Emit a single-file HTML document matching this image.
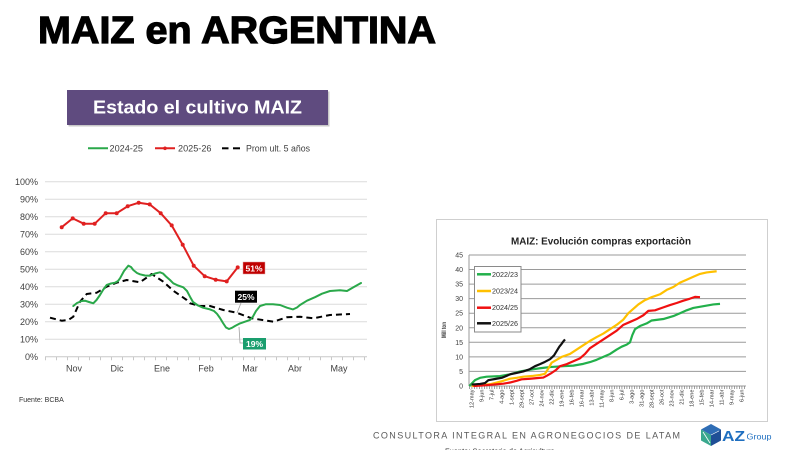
<!DOCTYPE html>
<html><head><meta charset="utf-8"><style>
html,body{margin:0;padding:0;background:#fff;width:800px;height:450px;overflow:hidden;}
svg{display:block;font-family:"Liberation Sans",Arial,sans-serif;}
</style></head><body>
<svg width="800" height="450" viewBox="0 0 800 450" xmlns="http://www.w3.org/2000/svg">
<rect width="800" height="450" fill="#fff"/>
<!-- Title -->
<text x="38" y="43" font-size="38" font-weight="bold" fill="#000" stroke="#000" stroke-width="1.2" textLength="398" lengthAdjust="spacingAndGlyphs">MAIZ en ARGENTINA</text>

<!-- Purple box -->
<rect x="68.5" y="91.5" width="261" height="35" fill="#c8c8c8"/>
<rect x="67" y="90" width="261" height="35" fill="#5f4b7f"/>
<text x="197.5" y="113.5" font-size="18.5" font-weight="bold" fill="#fff" text-anchor="middle" textLength="209" lengthAdjust="spacingAndGlyphs">Estado el cultivo MAIZ</text>

<!-- Legend left -->
<line x1="88" y1="148.3" x2="108" y2="148.3" stroke="#2aa84a" stroke-width="2"/>
<text x="109.5" y="151.3" font-size="9" fill="#404040" textLength="33.5" lengthAdjust="spacingAndGlyphs">2024-25</text>
<line x1="155" y1="148.3" x2="175" y2="148.3" stroke="#e02020" stroke-width="2"/>
<circle cx="165" cy="148.3" r="1.8" fill="#e02020"/>
<text x="178" y="151.3" font-size="9" fill="#404040" textLength="33.5" lengthAdjust="spacingAndGlyphs">2025-26</text>
<line x1="222" y1="148.3" x2="228.5" y2="148.3" stroke="#000" stroke-width="2"/>
<line x1="233" y1="148.3" x2="240" y2="148.3" stroke="#000" stroke-width="2"/>
<text x="246" y="151.3" font-size="9" fill="#404040" textLength="64" lengthAdjust="spacingAndGlyphs">Prom ult. 5 años</text>

<!-- Left chart grid -->
<g stroke="#dcdcdc" stroke-width="1">
<line x1="45" y1="181.7" x2="367" y2="181.7"/>
<line x1="45" y1="199.2" x2="367" y2="199.2"/>
<line x1="45" y1="216.7" x2="367" y2="216.7"/>
<line x1="45" y1="234.2" x2="367" y2="234.2"/>
<line x1="45" y1="251.7" x2="367" y2="251.7"/>
<line x1="45" y1="269.2" x2="367" y2="269.2"/>
<line x1="45" y1="286.7" x2="367" y2="286.7"/>
<line x1="45" y1="304.2" x2="367" y2="304.2"/>
<line x1="45" y1="321.7" x2="367" y2="321.7"/>
<line x1="45" y1="339.2" x2="367" y2="339.2"/>
</g>
<line x1="45" y1="356.7" x2="367" y2="356.7" stroke="#c8c8c8" stroke-width="1"/>
<line x1="45" y1="358.5" x2="367" y2="358.5" stroke="#c8c8c8" stroke-width="3.5" stroke-dasharray="1 10"/>
<g font-size="9" fill="#404040" text-anchor="end">
<text x="38" y="184.9">100%</text>
<text x="38" y="202.4">90%</text>
<text x="38" y="219.9">80%</text>
<text x="38" y="237.4">70%</text>
<text x="38" y="254.9">60%</text>
<text x="38" y="272.4">50%</text>
<text x="38" y="289.9">40%</text>
<text x="38" y="307.4">30%</text>
<text x="38" y="324.9">20%</text>
<text x="38" y="342.4">10%</text>
<text x="38" y="359.9">0%</text>
</g>
<g font-size="9" fill="#404040" text-anchor="middle">
<text x="74" y="371.5">Nov</text>
<text x="117" y="371.5">Dic</text>
<text x="162" y="371.5">Ene</text>
<text x="206" y="371.5">Feb</text>
<text x="250" y="371.5">Mar</text>
<text x="295" y="371.5">Abr</text>
<text x="339" y="371.5">May</text>
</g>

<!-- Black dashed avg -->
<polyline fill="none" stroke="#000" stroke-width="2" stroke-dasharray="6 4" stroke-linejoin="round"
points="50,317.7 61.7,320.7 68.3,320 73.3,316.7 80,301.7 86.7,294 96.7,292.7 106.7,286.7 116.7,282.7 126.7,280 140,282.3 151.7,274 163.3,281.7 173.3,290.7 186.7,300 190,303.3 200,306 210,306 223.3,310 236.7,312.7 251.7,318.3 273.3,321.7 286.7,317.3 300,316.7 313.3,318.3 330,315 350,314"/>

<!-- Green 2024-25 -->
<polyline fill="none" stroke="#2aa84a" stroke-width="2" stroke-linejoin="round" stroke-linecap="round"
points="73.3,306 77,303 81.7,301 85,300.7 89,302 93.3,303.3 96.5,300 100,295 103,290 106.7,285 111,283.5 115,282.7 118,281 120,278.3 124,271 128.3,265.7 131,267 133.3,270 137,273 140,274.3 145,275.5 150,275.7 155,273.5 160,272.3 163,273.5 166,276.5 170,280 173.3,283.3 178,285.5 183.3,287.3 187,291 190,296.7 193,302 198,305.5 203,307.7 210,309.4 214,311 217,313.8 220,318 223,323 226,327.5 229,329 232,327.8 235,326 240,323.4 245,321.7 250,319.9 253,316.5 256,311 260,306 266,304.2 273,304.2 280,305 287,307.7 293,309.4 297,307.5 300,305 307,300.7 315,297.2 322,293.7 330,291 340,290.2 347,291 353,287.5 361,283"/>

<!-- Red 2025-26 -->
<polyline fill="none" stroke="#e02020" stroke-width="2" stroke-linejoin="round"
points="61.7,227.2 72.7,218.4 83.7,223.7 94.7,223.7 105.7,213.2 116.7,213.2 127.7,206.2 138.7,202.7 149.7,204.4 160.7,213.2 171.7,225.4 182.7,244.7 193.7,265.7 204.7,276.2 215.7,279.7 226.7,281.4 237.7,267.4"/>
<g fill="#e02020">
<circle cx="61.7" cy="227.2" r="2"/><circle cx="72.7" cy="218.4" r="2"/><circle cx="83.7" cy="223.7" r="2"/><circle cx="94.7" cy="223.7" r="2"/><circle cx="105.7" cy="213.2" r="2"/><circle cx="116.7" cy="213.2" r="2"/><circle cx="127.7" cy="206.2" r="2"/><circle cx="138.7" cy="202.7" r="2"/><circle cx="149.7" cy="204.4" r="2"/><circle cx="160.7" cy="213.2" r="2"/><circle cx="171.7" cy="225.4" r="2"/><circle cx="182.7" cy="244.7" r="2"/><circle cx="193.7" cy="265.7" r="2"/><circle cx="204.7" cy="276.2" r="2"/><circle cx="215.7" cy="279.7" r="2"/><circle cx="226.7" cy="281.4" r="2"/><circle cx="237.7" cy="267.4" r="2"/>
</g>

<!-- Data labels -->
<line x1="241" y1="303" x2="237" y2="313" stroke="#a0a0a0" stroke-width="0.8"/>
<polyline points="239,327 240,343 243,343" fill="none" stroke="#a0a0a0" stroke-width="0.8"/>
<rect x="243" y="262" width="22" height="12" fill="#c00000" stroke="#e0a0a0" stroke-width="0.5"/>
<text x="254" y="271.3" font-size="8.5" font-weight="bold" fill="#fff" text-anchor="middle">51%</text>
<rect x="235" y="290.7" width="22" height="12" fill="#000"/>
<text x="246" y="300" font-size="8.5" font-weight="bold" fill="#fff" text-anchor="middle">25%</text>
<rect x="243" y="338" width="23" height="11.5" fill="#1a9e6e"/>
<text x="254.5" y="347" font-size="8.5" font-weight="bold" fill="#fff" text-anchor="middle">19%</text>

<text x="19" y="402" font-size="7" fill="#333">Fuente: BCBA</text>

<!-- Right chart -->
<rect x="436.5" y="219.5" width="331" height="202" fill="#fff" stroke="#cfcfcf" stroke-width="1"/>
<text x="601" y="244.3" font-size="10.5" font-weight="bold" fill="#222" text-anchor="middle" textLength="180" lengthAdjust="spacingAndGlyphs">MAIZ: Evolución compras exportaciòn</text>
<g stroke="#9a9a9a" stroke-width="1">
<line x1="469" y1="255" x2="746" y2="255"/>
<line x1="469" y1="269.5" x2="746" y2="269.5"/>
<line x1="469" y1="284.1" x2="746" y2="284.1"/>
<line x1="469" y1="298.6" x2="746" y2="298.6"/>
<line x1="469" y1="313.2" x2="746" y2="313.2"/>
<line x1="469" y1="327.8" x2="746" y2="327.8"/>
<line x1="469" y1="342.3" x2="746" y2="342.3"/>
<line x1="469" y1="356.9" x2="746" y2="356.9"/>
<line x1="469" y1="371.4" x2="746" y2="371.4"/>
<line x1="469" y1="386" x2="746" y2="386"/>
<line x1="469" y1="255" x2="469" y2="386"/>
</g>
<line x1="469" y1="387.5" x2="746" y2="387.5" stroke="#888" stroke-width="3" stroke-dasharray="0.8 1.7"/>
<g font-size="7" fill="#404040" text-anchor="end">
<text x="463" y="257.5">45</text>
<text x="463" y="272">40</text>
<text x="463" y="286.6">35</text>
<text x="463" y="301.1">30</text>
<text x="463" y="315.7">25</text>
<text x="463" y="330.3">20</text>
<text x="463" y="344.8">15</text>
<text x="463" y="359.4">10</text>
<text x="463" y="373.9">5</text>
<text x="463" y="388.5">0</text>
</g>
<text transform="translate(446,330) rotate(-90)" font-size="6" font-weight="bold" fill="#333" text-anchor="middle" textLength="16" lengthAdjust="spacingAndGlyphs">Mill ton</text>

<g font-size="5.6" fill="#333" text-anchor="end">
<text transform="translate(473.7,389.5) rotate(-90)">12-may</text>
<text transform="translate(483.7,389.5) rotate(-90)">9-jun</text>
<text transform="translate(493.7,389.5) rotate(-90)">7-jul</text>
<text transform="translate(503.7,389.5) rotate(-90)">4-ago</text>
<text transform="translate(513.7,389.5) rotate(-90)">1-sept</text>
<text transform="translate(523.7,389.5) rotate(-90)">29-sept</text>
<text transform="translate(533.7,389.5) rotate(-90)">27-oct</text>
<text transform="translate(543.7,389.5) rotate(-90)">24-nov</text>
<text transform="translate(553.7,389.5) rotate(-90)">22-dic</text>
<text transform="translate(563.7,389.5) rotate(-90)">19-ene</text>
<text transform="translate(573.7,389.5) rotate(-90)">16-feb</text>
<text transform="translate(583.7,389.5) rotate(-90)">16-mar</text>
<text transform="translate(593.7,389.5) rotate(-90)">13-abr</text>
<text transform="translate(603.7,389.5) rotate(-90)">11-may</text>
<text transform="translate(613.7,389.5) rotate(-90)">8-jun</text>
<text transform="translate(623.7,389.5) rotate(-90)">6-jul</text>
<text transform="translate(633.7,389.5) rotate(-90)">3-ago</text>
<text transform="translate(643.7,389.5) rotate(-90)">31-ago</text>
<text transform="translate(653.7,389.5) rotate(-90)">28-sept</text>
<text transform="translate(663.7,389.5) rotate(-90)">26-oct</text>
<text transform="translate(673.7,389.5) rotate(-90)">23-nov</text>
<text transform="translate(683.7,389.5) rotate(-90)">21-dic</text>
<text transform="translate(693.7,389.5) rotate(-90)">18-ene</text>
<text transform="translate(703.7,389.5) rotate(-90)">15-feb</text>
<text transform="translate(713.7,389.5) rotate(-90)">14-mar</text>
<text transform="translate(723.7,389.5) rotate(-90)">11-abr</text>
<text transform="translate(733.7,389.5) rotate(-90)">9-may</text>
<text transform="translate(743.7,389.5) rotate(-90)">6-jun</text>
</g>

<g transform="translate(430,386) scale(0.333333,-2.912)" fill="none" stroke-linejoin="round">
<polyline vector-effect="non-scaling-stroke" stroke="#22b04b" stroke-width="2.2" points="118,0 135,2 150,2.8 170,3.2 210,3.4 240,4 255,4.5 270,5 300,5.6 330,6.1 360,6.5 400,6.8 430,7 460,7.6 480,8.2 500,9 520,10 540,11 560,12.5 575,13.5 590,14.2 600,15 607,17.5 615,19.5 630,20.6 650,21.5 665,22.5 700,23 730,24 750,25 770,26 790,26.8 820,27.4 850,28 870,28.2"/>
<polyline vector-effect="non-scaling-stroke" stroke="#ffc000" stroke-width="2.2" points="125,0 150,0.3 180,0.6 200,1.2 220,1.8 240,2.5 260,2.8 280,3.2 310,3.5 330,3.8 345,4.2 355,6 365,8 380,9 395,10 420,11 440,12.5 460,14 480,15.5 500,16.8 520,18 540,19.5 560,21 580,22.8 595,25 610,26.5 625,28 645,29.5 665,30.5 690,31.5 710,33 730,34 750,35.5 770,36.5 790,37.5 810,38.5 830,39 860,39.4"/>
<polyline vector-effect="non-scaling-stroke" stroke="#f01010" stroke-width="2.2" points="130,0 160,0.2 190,0.5 220,0.8 240,1.2 260,1.8 275,2.3 300,2.5 320,2.7 340,2.9 350,3.5 365,4.5 378,5.5 390,6.8 410,7.5 430,8.5 450,9.5 465,11 480,13 500,14.5 520,16 540,17.5 560,19 580,21 600,22 620,23 640,24.3 655,25.8 675,26 700,27 720,27.8 740,28.5 760,29.3 780,30 795,30.6 810,30.5"/>
<polyline vector-effect="non-scaling-stroke" stroke="#111" stroke-width="2.2" points="125,0.5 150,0.7 165,1 175,2 195,2.4 215,2.8 230,3.5 240,4 260,4.5 280,5 300,5.8 315,6.8 330,7.5 345,8.3 360,9.2 372,10.5 380,12 388,13.5 395,14.5 400,15.3 405,16"/>
</g>

<!-- Right legend -->
<rect x="474.5" y="266.5" width="46.5" height="65.5" fill="#fff" stroke="#8a8a8a" stroke-width="1"/>
<g stroke-width="2.5">
<line x1="477" y1="274.3" x2="491" y2="274.3" stroke="#22b04b"/>
<line x1="477" y1="291" x2="491" y2="291" stroke="#ffc000"/>
<line x1="477" y1="307.7" x2="491" y2="307.7" stroke="#f01010"/>
<line x1="477" y1="323.3" x2="491" y2="323.3" stroke="#111"/>
</g>
<g font-size="7" fill="#333">
<text x="492" y="276.8" textLength="26" lengthAdjust="spacingAndGlyphs">2022/23</text>
<text x="492" y="293.5" textLength="26" lengthAdjust="spacingAndGlyphs">2023/24</text>
<text x="492" y="310.2" textLength="26" lengthAdjust="spacingAndGlyphs">2024/25</text>
<text x="492" y="325.8" textLength="26" lengthAdjust="spacingAndGlyphs">2025/26</text>
</g>

<!-- Footer -->
<text x="373" y="438.5" font-size="9" fill="#595959" textLength="307" lengthAdjust="spacing">CONSULTORA INTEGRAL EN AGRONEGOCIOS DE LATAM</text>
<text x="445" y="453.5" font-size="7.5" fill="#333">Fuente: Secretaria de Agricultura</text>

<!-- AZ logo -->
<g>
<polygon points="711,424 721,429.5 711,435 701,429.5" fill="#2f6db5"/>
<polygon points="701,429.5 711,435 711,446 701,440.5" fill="#3aa88e"/>
<polygon points="711,435 721,429.5 721,440.5 711,446" fill="#1f4f96"/>
<line x1="703" y1="432" x2="710" y2="443" stroke="#fff" stroke-width="0.8"/>
<line x1="711" y1="435" x2="719" y2="431" stroke="#fff" stroke-width="0.6"/>
</g>
<text x="722" y="441" font-size="15" font-weight="bold" fill="#1f6fc0" textLength="23" lengthAdjust="spacingAndGlyphs">AZ</text>
<text x="746.5" y="439.5" font-size="8.5" fill="#1f6fc0" textLength="25" lengthAdjust="spacingAndGlyphs">Group</text>
</svg>
</body></html>
